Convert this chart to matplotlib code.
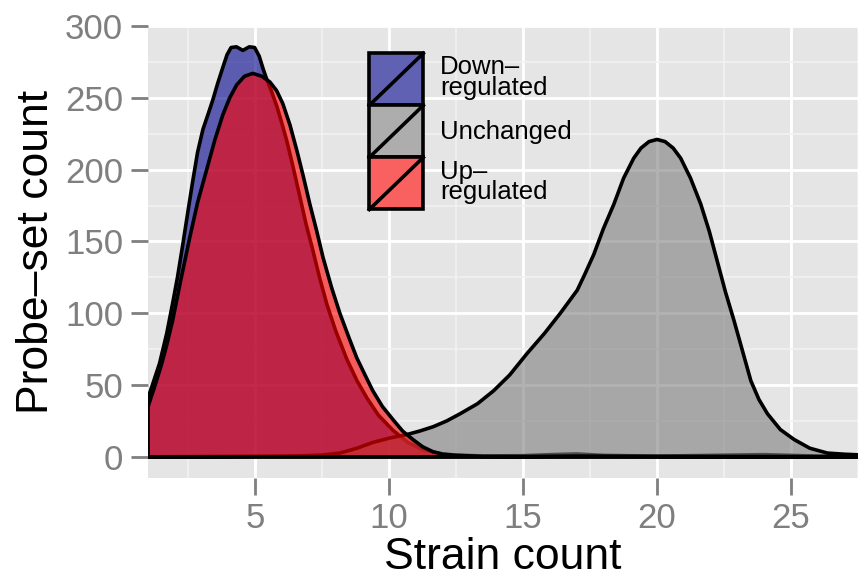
import numpy as np
import matplotlib
matplotlib.use("Agg")
import matplotlib.pyplot as plt
from matplotlib.patches import Rectangle
from matplotlib.lines import Line2D
from matplotlib.legend_handler import HandlerPatch

plt.rcParams['font.family'] = ['Liberation Sans', 'DejaVu Sans']

# values (strain count -> probe-set count)
down_x = [1.0, 1.2, 1.43, 1.7, 1.92, 2.1, 2.3, 2.5, 2.67, 2.85, 3.05, 3.25, 3.41,
          3.6, 3.79, 3.95, 4.1, 4.3, 4.54, 4.78, 4.98, 5.15, 5.3, 5.43, 5.6,
          5.81, 6.0, 6.18, 6.4, 6.67, 6.9, 7.15, 7.4, 7.68, 8.0, 8.42, 8.8,
          9.17, 9.6, 10.14, 10.7, 11.26, 12.0, 12.5, 13.5, 15, 16, 17, 18,
          20, 22, 24, 26, 27.5]
down_y = [41, 52, 65, 86, 107, 125, 148, 172, 192, 212, 228, 239, 248,
          260, 271, 280, 285, 285.5, 283, 285.5, 285, 279, 270, 263, 255,
          244, 232, 220, 203, 181, 162, 144, 125, 106, 88, 68, 53,
          41, 29, 18.5, 10, 5, 2, 1.2, 0.6, 0.8, 1.5, 2, 1,
          0.5, 1, 1.5, 0.5, 0.3]

unch_x = [1.0, 3, 5, 6.5, 7.5, 8.16, 8.8, 9.39, 10.0, 10.66, 11.15, 11.65, 12.15,
          12.65, 13.3, 13.9, 14.5, 15.15, 15.8, 16.39, 17.02, 17.3, 17.64, 18.0,
          18.39, 18.75, 19.13, 19.4, 19.7, 20.0, 20.3, 20.6, 20.88, 21.25, 21.63,
          21.95, 22.25, 22.55, 22.87, 23.2, 23.5, 23.8, 24.12, 24.6, 25.12, 25.7,
          26.36, 27.0, 27.5]
unch_y = [0, 0.2, 0.4, 0.6, 1.2, 2.6, 6, 10, 13, 15.5, 18, 21, 25,
          30, 37, 46, 57, 72, 86, 100, 116, 127, 141, 159,
          176, 194, 208, 215, 219.5, 221, 219.5, 215, 208, 194, 176,
          157, 136, 115, 95, 73, 53, 40, 30, 19, 12, 6,
          2.6, 1.8, 1.4]

up_x = [1.0, 1.25, 1.5, 1.7, 1.92, 2.2, 2.55, 2.85, 3.19, 3.5, 3.79, 4.05, 4.31,
        4.6, 4.91, 5.25, 5.55, 5.8, 6.03, 6.3, 6.56, 6.8, 7.04, 7.3, 7.53,
        7.85, 8.16, 8.5, 8.79, 9.1, 9.39, 9.75, 10.14, 10.5, 10.89, 11.25,
        11.64, 12.0, 12.5, 13.5, 15, 17, 20, 23, 27.5]
up_y = [35, 49, 64, 78, 95, 121, 152, 177, 200, 221, 238, 250, 259,
        265, 267, 265, 261, 255, 246, 231, 213, 195, 176, 157, 139,
        118, 100, 83, 69, 57, 46, 35, 26, 18, 12, 7,
        3.5, 1.8, 1, 0.3, 0.2, 0.5, 0.3, 0.2, 0.1]

labels = ['Down\u2013\nregulated', 'Unchanged', 'Up\u2013\nregulated']
colors = ['#00008B', '#7F7F7F', '#FF0000']
series = [(down_x, down_y), (unch_x, unch_y), (up_x, up_y)]
alpha = 0.6
edge_lw = 2.6

fig = plt.figure(figsize=(8.58, 5.79), dpi=100)
ax = fig.add_axes([148 / 858, 101.5 / 579, 710 / 858, 451.5 / 579])
ax.set_facecolor('#E5E5E5')

handles = []
for (x, y), c, lab in zip(series, colors, labels):
    px = np.concatenate([[x[0]], x, [x[-1]]])
    py = np.concatenate([[0], y, [0]])
    fc = matplotlib.colors.to_rgba(c, alpha)
    ax.fill(px, py, facecolor=fc, edgecolor='black', lw=edge_lw, joinstyle='round', zorder=3)
    handles.append(Rectangle((0, 0), 1, 1, facecolor=fc, edgecolor='black', label=lab))

ax.set_xlim(1.0, 27.5)
ax.set_ylim(-14.4, 298.6)
ax.set_xticks([5, 10, 15, 20, 25])
ax.set_xticks(np.arange(2.5, 28, 5), minor=True)
ax.set_yticks(np.arange(0, 301, 50))
ax.set_yticks(np.arange(25, 300, 50), minor=True)
ax.grid(which='major', color='white', lw=2.0)
ax.grid(which='minor', color='#F2F2F2', lw=1.2)
ax.set_axisbelow(True)
for s in ax.spines.values():
    s.set_visible(False)
ax.tick_params(which='major', length=12, width=2, color='#7F7F7F',
               labelcolor='#7F7F7F', labelsize=25, pad=6)
ax.tick_params(which='minor', length=0)
ax.set_xlabel('Strain count', fontsize=32, labelpad=1)
ax.set_ylabel('Probe\u2013set count', fontsize=32, labelpad=6)


class SlashKey(HandlerPatch):
    def create_artists(self, legend, orig_handle, xdescent, ydescent,
                       width, height, fontsize, trans):
        x0, y0 = -xdescent, -ydescent
        bg = Rectangle((x0, y0), width, height, facecolor='#F2F2F2',
                       edgecolor='none', transform=trans)
        box = Rectangle((x0, y0), width, height, facecolor=orig_handle.get_facecolor(),
                        edgecolor='black', lw=edge_lw, transform=trans)
        slash = Line2D([x0, x0 + width], [y0, y0 + height], color='black',
                       lw=edge_lw, transform=trans)
        return [bg, box, slash]


leg = ax.legend(handles=handles, handler_map={Rectangle: SlashKey()},
                loc='upper left', bbox_to_anchor=(0.3117, 0.9395),
                frameon=False, fontsize=18.5, handlelength=2.1, handleheight=2.74,
                labelspacing=0, handletextpad=0.66, borderpad=0, borderaxespad=0)
for t in leg.get_texts():
    t.set_linespacing(0.8)

fig.savefig('out.png', dpi=100)
